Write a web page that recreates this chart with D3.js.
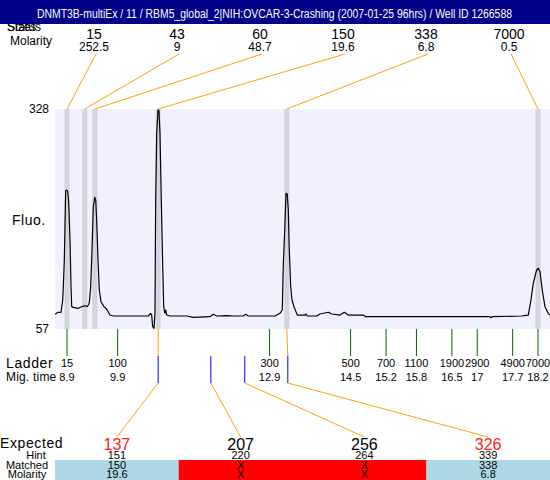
<!DOCTYPE html>
<html><head><meta charset="utf-8">
<script src="https://cdn.jsdelivr.net/npm/d3@7"></script>
<style>body{margin:0;background:#fff} svg{display:block;font-family:"Liberation Sans",Arial,sans-serif}</style>
</head><body><svg id="c" width="550" height="480"></svg>
<script>
const title = "DNMT3B-multiEx / 11  / RBM5_global_2|NIH:OVCAR-3-Crashing (2007-01-25 96hrs) / Well ID 1266588";

// electropherogram trace: migration time (s) and fluorescence
const migTime = [8.663,8.722,8.782,8.815,8.827,8.847,8.874,8.894,8.914,8.934,
8.959,8.979,8.993,9.024,9.123,9.190,9.255,9.301,9.340,9.368,
9.394,9.419,9.447,9.467,9.486,9.512,9.538,9.571,9.630,9.684,
9.749,9.814,10.209,10.505,10.552,10.572,10.592,10.618,10.637,10.651,
10.671,10.697,10.716,10.736,10.762,10.790,10.809,10.829,10.849,10.869,
10.934,11.263,11.393,11.723,11.788,11.855,12.053,12.183,12.381,12.428,
12.479,13.007,13.105,13.151,13.170,13.204,13.224,13.249,13.269,13.289,
13.317,13.342,13.382,13.447,13.599,13.619,13.644,13.830,13.895,14.059,
14.126,14.290,14.375,14.454,14.750,14.797,17.251,17.271,17.297,17.877,
18.008,18.061,18.106,18.173,18.205,18.239,18.284,18.338,18.403,18.436];
const fluo = [75.1,77.6,77.6,92.7,108.7,142.0,227.4,228.2,226.1,212.2,
166.6,108.7,84.5,83.7,82.5,84.5,85.7,84.5,89.0,109.1,
154.3,207.6,219.2,215.9,191.3,142.0,105.0,90.6,84.5,81.3,
74.2,73.0,73.0,73.0,76.3,74.2,59.8,57.9,76.7,215.9,
298.4,326.8,325.9,298.4,215.9,133.7,84.5,76.7,80.4,74.2,
73.0,73.0,71.4,72.2,75.1,73.0,73.4,73.0,73.0,75.1,
73.0,73.0,76.3,80.4,133.7,187.2,224.2,223.3,203.6,154.3,
109.1,92.7,84.5,74.2,74.2,75.5,73.0,73.0,75.5,77.6,
75.5,74.2,77.6,74.2,74.2,72.2,72.2,70.9,72.2,73.0,
74.2,92.7,113.3,129.7,131.8,127.6,105.0,84.5,76.3,74.2];

const fluoTicks = [57, 328];

// ladder
const ladderSizes = ["15","100","300","500","700","1100","1900","2900","4900","7000"];
const ladderTimes = [8.9,9.9,12.9,14.5,15.2,15.8,16.5,17,17.7,18.2];

// detected peaks
const peakSizes = ["15","43","60","150","338","7000"];
const peakMolarity = ["252.5","9","48.7","19.6","6.8","0.5"];
const peakTimes = [8.9,9.25,9.45,10.70,13.24,18.2];

// expected fragments
const expectedSizes = ["137","207","256","326"];
const hintSizes = ["151","220","264","339"];
const matchedSizes = ["150","X","X","338"];
const matchedMolarity = ["19.6","X","X","6.8"];
const expectedTimes = [10.70,11.74,12.41,13.26];
const matchedPeak = [3,null,null,4];

const svg = d3.select("#c");
const x = d3.scaleLinear().domain([8.663, 18.437]).range([55, 550]);
const y = d3.scaleLinear().domain([57, 328]).range([329, 109]);
const topBand = d3.scaleBand().domain(d3.range(peakSizes.length)).range([52.5, 550.5]);
const cell = d3.scaleBand().domain(d3.range(expectedSizes.length)).range([55, 550]);
const orange = "#ffa500";

// header labels (under header bar)
svg.append("text").attr("x",7).attr("y",31).attr("font-size",12).text("Status");
svg.append("text").attr("x",7).attr("y",31).attr("font-size",12).text("Sizes");
svg.append("rect").attr("x",0).attr("y",0).attr("width",550).attr("height",24).attr("fill","#000088");
svg.append("text").attr("x",37).attr("y",18).attr("fill","#fff").attr("font-size",12)
  .attr("textLength",475).attr("lengthAdjust","spacingAndGlyphs").text(title);
svg.append("text").attr("x",10).attr("y",45).attr("font-size",12).text("Molarity");

// top peak labels
const tg = svg.append("g");
tg.selectAll("text.sz").data(peakSizes).join("text").attr("class","sz")
  .attr("x",(d,i)=>topBand(i)+topBand.bandwidth()/2).attr("y",39).attr("text-anchor","middle")
  .attr("font-size",14).text(d=>d);
tg.selectAll("text.mo").data(peakMolarity).join("text").attr("class","mo")
  .attr("x",(d,i)=>topBand(i)+topBand.bandwidth()/2).attr("y",51).attr("text-anchor","middle")
  .attr("font-size",12).text(d=>d);
tg.selectAll("line").data(peakTimes).join("line")
  .attr("x1",(d,i)=>topBand(i)+topBand.bandwidth()/2+2).attr("y1",54)
  .attr("x2",d=>x(d)).attr("y2",109).attr("stroke",orange).attr("stroke-width",1);

// plot area
svg.append("rect").attr("x",55).attr("y",109).attr("width",495).attr("height",220).attr("fill","#f0f0fe");
svg.selectAll("rect.band").data(peakTimes).join("rect").attr("class","band")
  .attr("x",d=>x(d)-2.5).attr("y",109).attr("width",5).attr("height",220).attr("fill","#d4d4e0");

svg.append("defs").append("clipPath").attr("id","clip").append("rect")
  .attr("x",55).attr("y",108).attr("width",495).attr("height",222);
const line = d3.line().x(d=>x(d[0])).y(d=>y(d[1]));
svg.append("path").attr("clip-path","url(#clip)").datum(migTime.map((t,i)=>[t,fluo[i]]))
  .attr("d",line).attr("fill","none").attr("stroke","#000").attr("stroke-width",1.2)
  .attr("stroke-linejoin","round");

// y axis
const ya = svg.append("g").attr("transform","translate(49,0)")
  .call(d3.axisLeft(y).tickValues(fluoTicks).tickSize(0).tickPadding(0));
ya.select(".domain").remove();
ya.selectAll("text").attr("font-size",12).attr("font-family",null);
svg.append("text").attr("x",12).attr("y",225).attr("font-size",14).attr("letter-spacing",0.5).text("Fluo.");

// ladder
svg.selectAll("line.lad").data(ladderTimes).join("line").attr("class","lad")
  .attr("x1",d=>x(d)).attr("x2",d=>x(d)).attr("y1",329).attr("y2",356)
  .attr("stroke","#006400").attr("stroke-width",1);
svg.selectAll("text.lsz").data(ladderSizes).join("text").attr("class","lsz")
  .attr("x",(d,i)=>x(ladderTimes[i])).attr("y",367).attr("text-anchor","middle")
  .attr("font-size",11).text(d=>d);
svg.selectAll("text.lmt").data(ladderTimes).join("text").attr("class","lmt")
  .attr("x",d=>x(d)).attr("y",381).attr("text-anchor","middle")
  .attr("font-size",11).text(d=>d);
svg.append("text").attr("x",6).attr("y",368).attr("font-size",14).attr("letter-spacing",0.6).text("Ladder");
svg.append("text").attr("x",6).attr("y",381).attr("font-size",12).attr("letter-spacing",0.2).text("Mig. time");

// expected connectors
expectedTimes.forEach((t,i)=>{
  if (matchedPeak[i] !== null) {
    const px = x(peakTimes[matchedPeak[i]]);
    svg.append("line").attr("x1",px).attr("x2",x(t)).attr("y1",329).attr("y2",356)
      .attr("stroke",orange);
  }
  svg.append("line").attr("x1",x(t)).attr("x2",x(t)).attr("y1",356).attr("y2",383)
    .attr("stroke","#0000ff");
  svg.append("line").attr("x1",x(t)).attr("y1",383)
    .attr("x2",cell(i)+cell.bandwidth()/2).attr("y2",437).attr("stroke",orange);
});

// cells
const cc = i => matchedPeak[i] !== null ? "#add8e6" : "#ff0000";
svg.selectAll("rect.cell").data(expectedSizes).join("rect").attr("class","cell")
  .attr("x",(d,i)=>cell(i)).attr("y",460).attr("width",cell.bandwidth()+0.5).attr("height",20)
  .attr("fill",(d,i)=>cc(i));
const cx = i => cell(i)+cell.bandwidth()/2;
svg.selectAll("text.exp").data(expectedSizes).join("text").attr("class","exp")
  .attr("x",(d,i)=>cx(i)).attr("y",450).attr("text-anchor","middle").attr("font-size",16)
  .attr("fill",(d,i)=>matchedPeak[i]!==null?"#ff2020":"#000").text(d=>d);
svg.selectAll("text.hint").data(hintSizes).join("text").attr("class","hint")
  .attr("x",(d,i)=>cx(i)).attr("y",459).attr("text-anchor","middle").attr("font-size",11).text(d=>d);
svg.selectAll("text.mat").data(matchedSizes).join("text").attr("class","mat")
  .attr("x",(d,i)=>cx(i)).attr("y",469).attr("text-anchor","middle").attr("font-size",11).text(d=>d);
svg.selectAll("text.mol").data(matchedMolarity).join("text").attr("class","mol")
  .attr("x",(d,i)=>cx(i)).attr("y",478).attr("text-anchor","middle").attr("font-size",11).text(d=>d);

svg.append("text").attr("x",0).attr("y",448).attr("font-size",14).attr("letter-spacing",0.6).text("Expected");
svg.append("text").attr("x",36).attr("y",459).attr("text-anchor","middle").attr("font-size",11).text("Hint");
svg.append("text").attr("x",27).attr("y",469).attr("text-anchor","middle").attr("font-size",11).text("Matched");
svg.append("text").attr("x",27).attr("y",478).attr("text-anchor","middle").attr("font-size",11).text("Molarity");
</script></body></html>
